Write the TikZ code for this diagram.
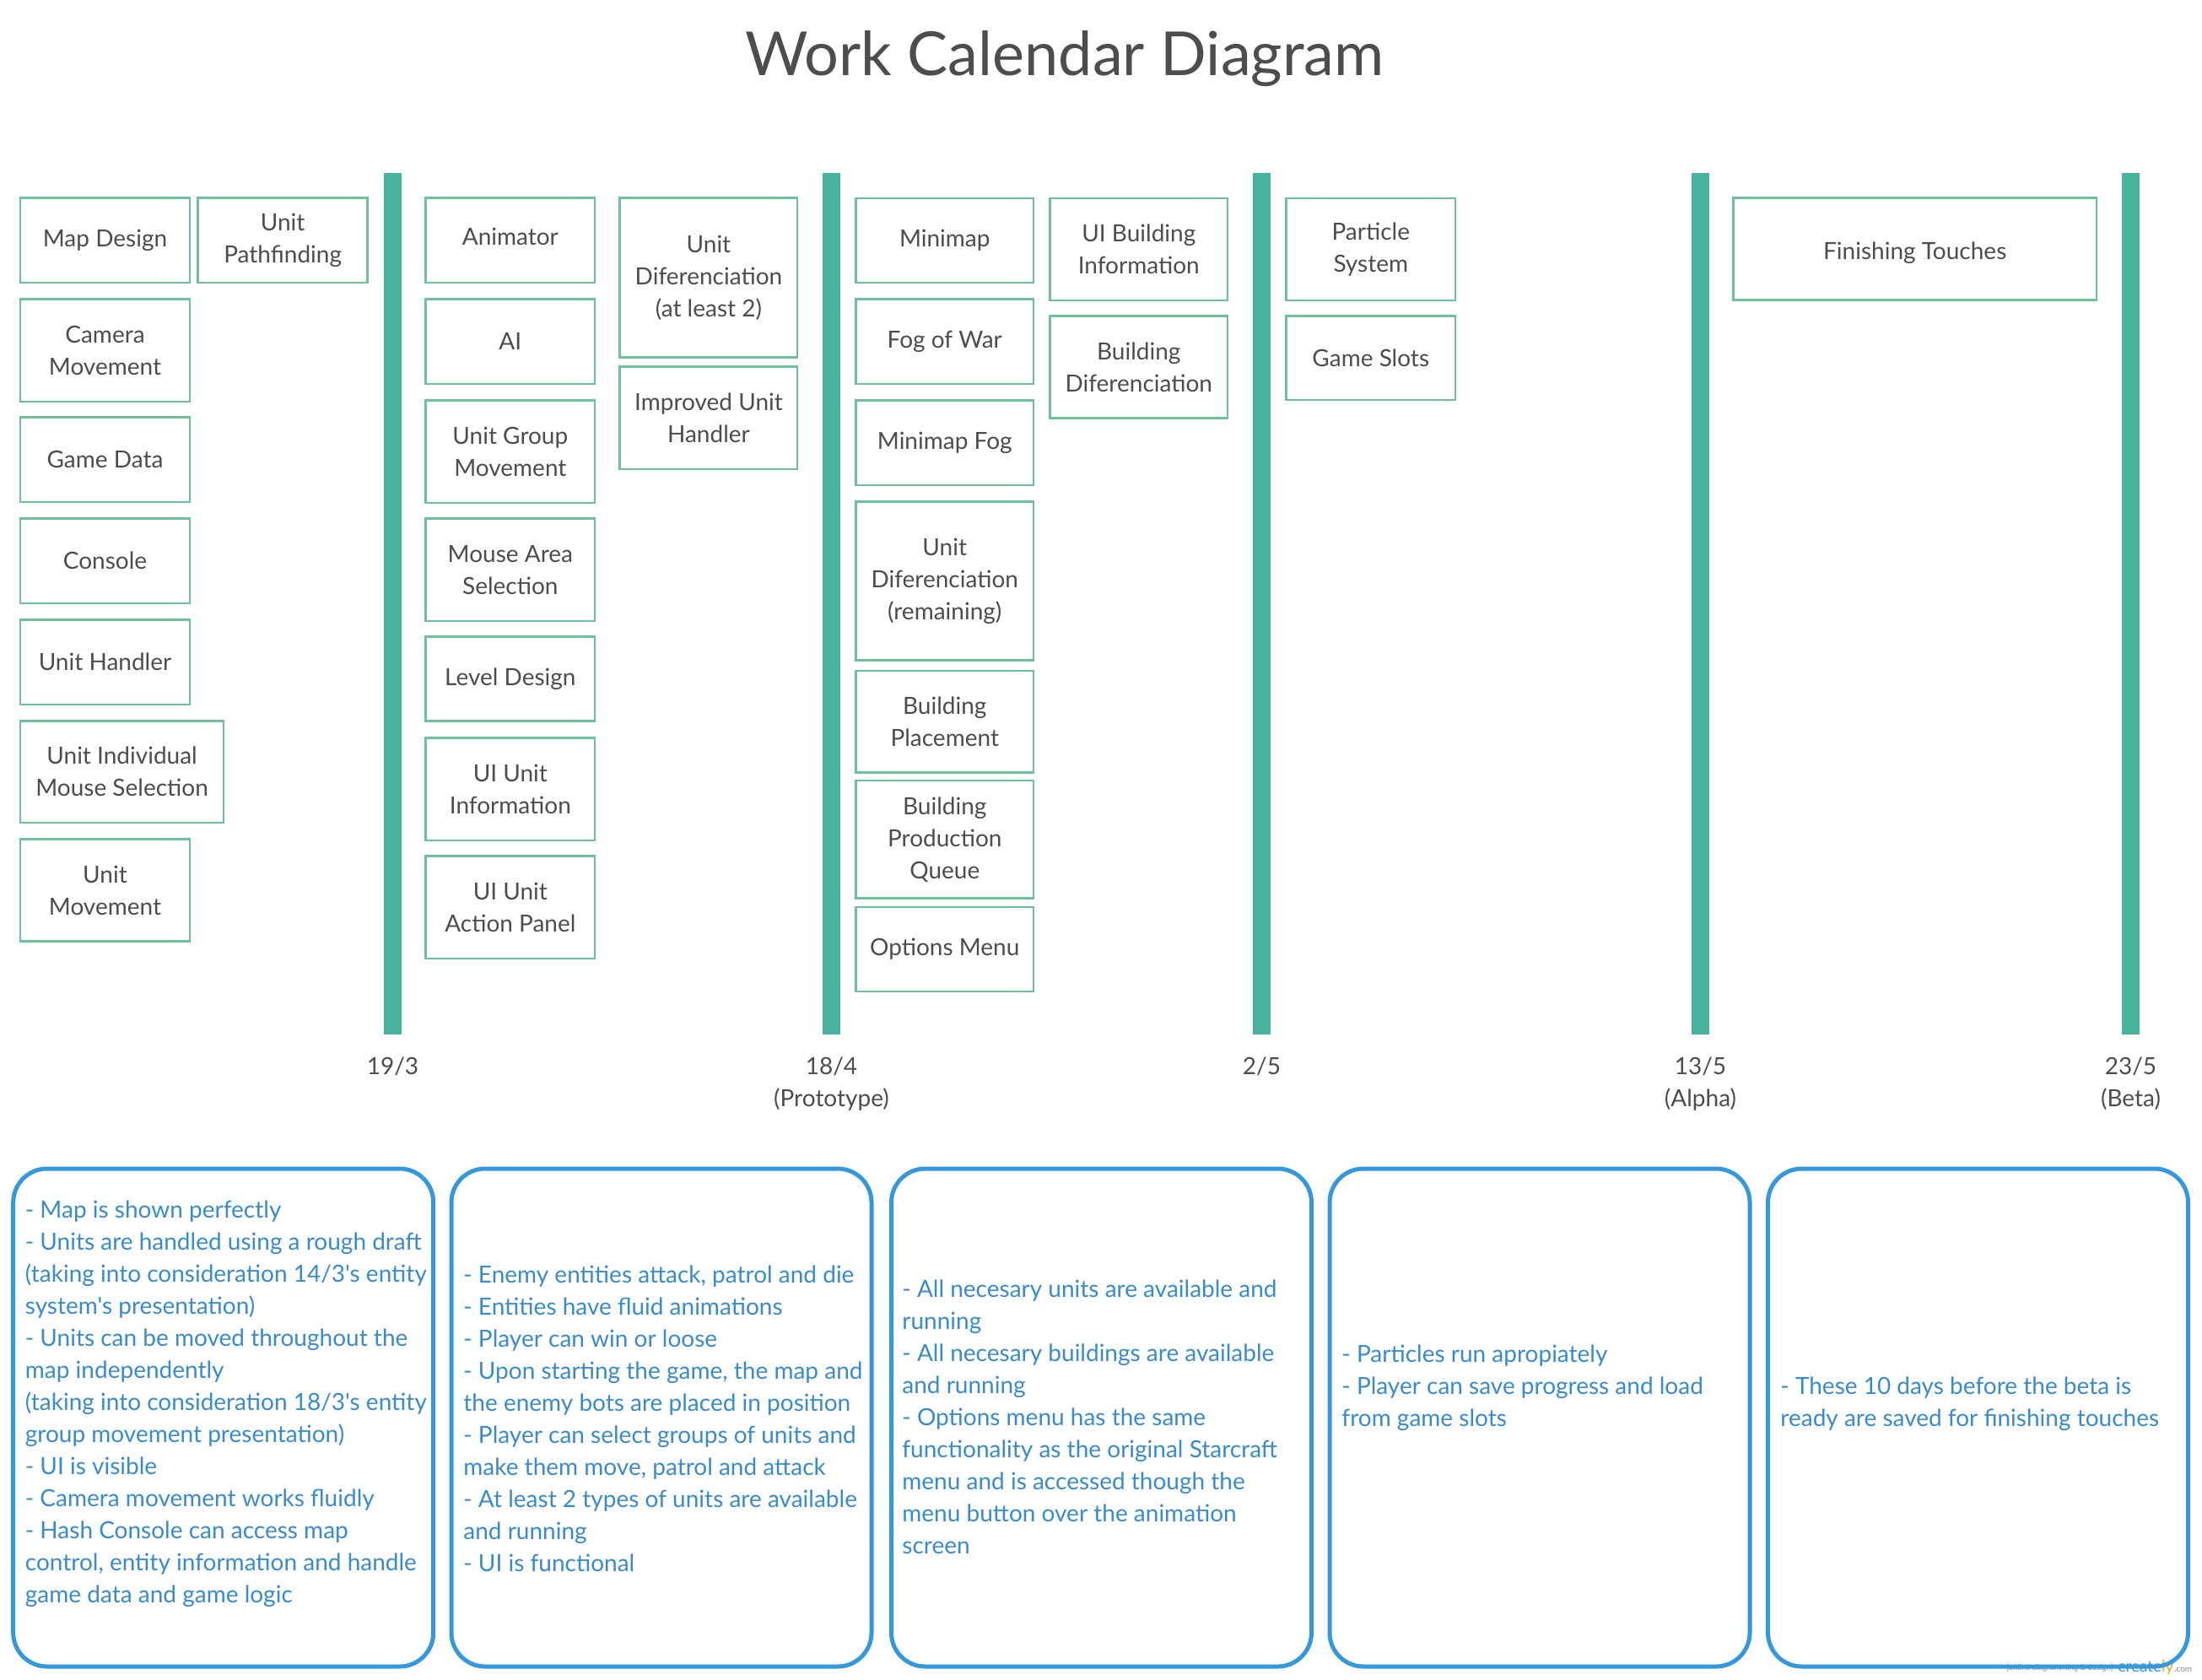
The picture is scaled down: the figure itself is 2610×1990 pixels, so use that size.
\documentclass[tikz,border=0pt]{standalone}
\usepackage{fontspec}
\setmainfont{Lato}
\newfontfamily\latoplain{Lato}
\definecolor{barcol}{HTML}{47B39D}
\definecolor{boxline}{HTML}{6DC09B}
\definecolor{txtgray}{HTML}{4D4D4D}
\definecolor{noteline}{HTML}{3598DB}
\definecolor{notetxt}{HTML}{3A8BCB}
\definecolor{wmgray}{HTML}{8A8A8A}
\definecolor{wmorange}{HTML}{F5A623}
\newcommand\tbox[7][]{\node[taskbox, #1, minimum width={(#5-#3)*0.5pt}, minimum height={(#6-#4)*0.5pt}] (#2) at ({(#3+#5)/2},{(#4+#6)/2}) {#7};}
\newcommand\milestone[3]{\fill[barcol] ({#2-10.5},205) rectangle ({#2+10.5},1226);}
\begin{document}
\begin{tikzpicture}[x=0.5pt,y=-0.5pt,
  taskbox/.style={draw=boxline, line width=1.25pt, inner sep=0pt, align=center, text=txtgray, font=\latoplain\fontsize{14pt}{19pt}\selectfont},
  deeper/.style={execute at begin node={\rule[-4pt]{0pt}{0pt}}},
  lower/.style={execute at begin node={\rule{0pt}{15pt}}},
  datelbl/.style={anchor=base, inner sep=0pt, text=txtgray, font=\latoplain\fontsize{14pt}{19pt}\selectfont},
  notebox/.style={draw=noteline, line width=2.5pt, rounded corners=20pt, minimum width=249pt, minimum height=295pt, inner sep=0pt},
  notetext/.style={anchor=west, inner sep=0pt, align=left, text=notetxt, font=\latoplain\fontsize{14pt}{19pt}\selectfont}]
\useasboundingbox (0,0) rectangle (2610,1990);
\fill[white] (0,0) rectangle (2610,1990);
% title
\node[anchor=base, inner sep=0pt, text=txtgray, font=\latoplain\fontsize{36pt}{42pt}\selectfont] (title) at (1262,89.3) {Work Calendar Diagram};
% milestone bars
\milestone{m1}{465.5}{}
\milestone{m2}{985.5}{}
\milestone{m3}{1495.5}{}
\milestone{m4}{2015.5}{}
\milestone{m5}{2525.5}{}
% date labels
\node[datelbl] (d1) at (465.5,1273) {19/3};
\node[datelbl] (d2) at (985.5,1273) {18/4};
\node[datelbl] (d2b) at (985.5,1311) {(Prototype)};
\node[datelbl] (d3) at (1495.5,1273) {2/5};
\node[datelbl] (d4) at (2015.5,1273) {13/5};
\node[datelbl] (d4b) at (2015.5,1311) {(Alpha)};
\node[datelbl] (d5) at (2525.5,1273) {23/5};
\node[datelbl] (d5b) at (2525.5,1311) {(Beta)};
% column 1
\tbox{mapdesign}{24}{234.5}{225}{335}{Map Design}
\tbox{camera}{24}{354.6}{225}{476}{Camera\\Movement}
\tbox{gamedata}{24}{494.7}{225}{595.2}{Game Data}
\tbox{console}{24}{614.4}{225}{714.8}{Console}
\tbox{unithandler}{24}{734.5}{225}{835}{Unit Handler}
\tbox{unitindiv}{24}{854.5}{265.2}{975}{Unit Individual\\Mouse Selection}
\tbox{unitmove}{24}{994.7}{225}{1115.7}{Unit\\Movement}
% column 2
\tbox{pathfinding}{234.7}{234.5}{435.6}{335}{Unit\\Pathfinding}
% column 3
\tbox[deeper]{animator}{504.5}{234.5}{705.2}{335}{Animator}
\tbox{ai}{504.5}{354.6}{705.2}{455}{AI}
\tbox{groupmove}{504.5}{474.6}{705.2}{596}{Unit Group\\Movement}
\tbox{mousearea}{504.5}{614.4}{705.2}{735.8}{Mouse Area\\Selection}
\tbox{leveldesign}{504.5}{754.6}{705.2}{854.6}{Level Design}
\tbox{uiunitinfo}{504.5}{874.3}{705.2}{996}{UI Unit\\Information}
\tbox{uiunitaction}{504.5}{1014.3}{705.2}{1136}{UI Unit\\Action Panel}
% column 4
\tbox{unitdifa}{734.7}{234.5}{945.2}{423.3}{Unit\\Diferenciation\\(at least 2)}
\tbox{improved}{734.7}{434.5}{945.2}{555.9}{Improved Unit\\Handler}
% column 5
\tbox{minimap}{1014.5}{234.8}{1225}{335}{Minimap}
\tbox{fogofwar}{1014.5}{354.7}{1225}{454.9}{Fog of War}
\tbox{minimapfog}{1014.5}{474.6}{1225}{574.8}{Minimap Fog}
\tbox{unitdifb}{1014.5}{594.5}{1225}{782.7}{Unit\\Diferenciation\\(remaining)}
\tbox{bplacement}{1014.5}{794.8}{1225}{915.3}{Building\\Placement}
\tbox{bprodqueue}{1014.5}{925}{1225}{1064.5}{Building\\Production\\Queue}
\tbox{options}{1014.5}{1074.8}{1225}{1175}{Options Menu}
% column 6
\tbox{uibuilding}{1244.6}{234.8}{1455}{356}{UI Building\\Information}
\tbox{bdif}{1244.6}{374.5}{1455}{495.7}{Building\\Diferenciation}
% column 7
\tbox{particle}{1524.5}{234.8}{1725}{356}{Particle\\System}
\tbox{gameslots}{1524.5}{374.5}{1725}{474}{Game Slots}
% column 8
\tbox[lower]{finishing}{2054.4}{234.3}{2485}{355.7}{Finishing Touches}
% watermark
\node[anchor=base east, inner sep=0pt, text=wmgray, font=\latoplain\fontsize{4.8pt}{5pt}\selectfont] (wm1) at (2505,1979) {[online diagramming \& design]};
\node[anchor=base west, inner sep=0pt, text=noteline, font=\latoplain\fontsize{9.5pt}{10pt}\selectfont] (wm2) at (2510,1981.5) {create\textcolor{wmorange}{ly}};
\node[anchor=base west, inner sep=0pt, text=wmgray, font=\latoplain\fontsize{5pt}{6pt}\selectfont] (wm3) at (wm2.base east) {.com};
% note boxes
\node[notebox] (n1) at (264.7,1680) {};
\node[notebox] (n2) at (784,1680) {};
\node[notebox] (n3) at (1305.5,1680) {};
\node[notebox] (n4) at (1825,1680) {};
\node[notebox] (n5) at (2344.5,1680) {};
\node[notetext] (t1) at (29.5,1663.6) {- Map is shown perfectly\\- Units are handled using a rough draft\\(taking into consideration 14/3's entity\\system's presentation)\\- Units can be moved throughout the\\map independently\\(taking into consideration 18/3's entity\\group movement presentation)\\- UI is visible\\- Camera movement works fluidly\\- Hash Console can access map\\control, entity information and handle\\game data and game logic};
\node[notetext] (t2) at (549,1681) {- Enemy entities attack, patrol and die\\- Entities have fluid animations\\- Player can win or loose\\- Upon starting the game, the map and\\the enemy bots are placed in position\\- Player can select groups of units and\\make them move, patrol and attack\\- At least 2 types of units are available\\and running\\- UI is functional};
\node[notetext] (t3) at (1069,1679.6) {- All necesary units are available and\\running\\- All necesary buildings are available\\and running\\- Options menu has the same\\functionality as the original Starcraft\\menu and is accessed though the\\menu button over the animation\\screen};
\node[notetext] (t4) at (1590,1644.6) {- Particles run apropiately\\- Player can save progress and load\\from game slots};
\node[notetext] (t5) at (2110,1663.6) {- These 10 days before the beta is\\ready are saved for finishing touches};
\end{tikzpicture}
\end{document}
